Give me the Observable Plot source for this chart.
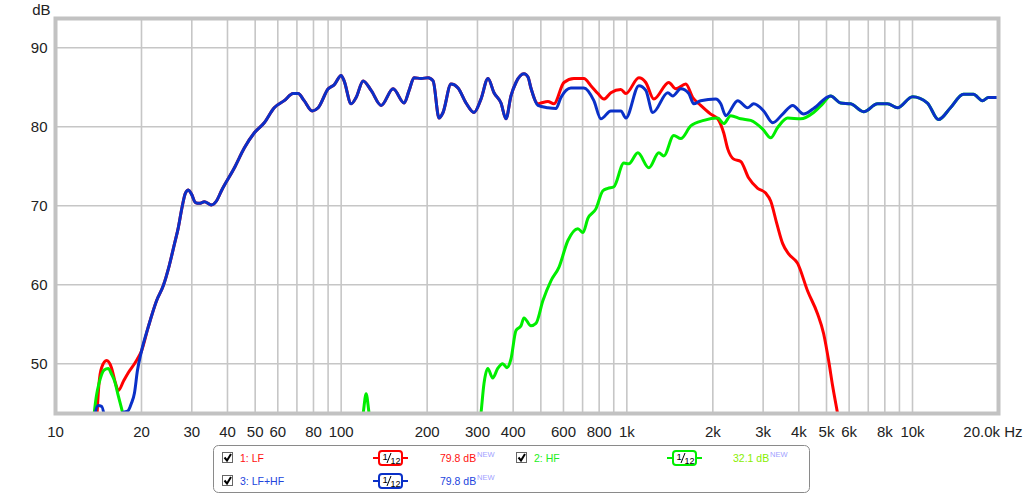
<!DOCTYPE html>
<html>
<head>
<meta charset="utf-8">
<script src="https://cdn.jsdelivr.net/npm/d3@7"></script>
<script src="https://cdn.jsdelivr.net/npm/@observablehq/plot@0.6"></script>
<style>
  html, body { margin: 0; padding: 0; background: #fff; }
  #wrap { position: relative; width: 1024px; height: 495px; overflow: hidden; font-family: "Liberation Sans", Arial, sans-serif; }
  #legend { position: absolute; left: 0; top: 440px; }
  svg g[aria-label="frame"] rect { filter: drop-shadow(2px 2px 1.5px rgba(0,0,0,0.28)); }
</style>
</head>
<body>
<div id="wrap"></div>
<script>
// ---- Data ----
const sumHz = [13.5, 14.1, 14.5, 15.1, 16.0, 16.7, 17.2, 17.96, 18.4, 18.9,
  19.35, 20.0, 21.1, 22.6, 23.85, 25.0, 26.1, 26.9, 27.8, 28.5,
  29.2, 29.9, 30.9, 31.9, 33.2, 35.1, 36.6, 38.1, 42.3, 45.8,
  49.6, 53.8, 58.3, 63.2, 67.9, 70.7, 74.2, 79.2, 83.1, 90.1,
  94.5, 100, 102.4, 108.4, 112.8, 119.4, 127.3, 138.0, 152.0, 166.1,
  172.9, 179.9, 190.4, 201.5, 209.8, 220.1, 227.3, 242.4, 256.5, 273.6,
  291.7, 308.6, 326.6, 342.8, 362.6, 377.5, 393.0, 409.2, 436.4, 450.7,
  461.6, 488.4, 529.2, 564.6, 587.8, 637.1, 707.5, 766.6, 811.3, 879.4,
  952.8, 992, 1102, 1165, 1233, 1391, 1448, 1545, 1648, 1715,
  1814, 2047, 2132, 2220, 2444, 2649, 2780, 3013, 3240, 3512,
  3806, 4158, 4506, 5169, 5602, 6071, 6741, 7545, 8177, 8863,
  10000, 11281, 12328, 13582, 15077, 16340, 17571, 18441, 19826];
const sumDb = [42, 44.7, 44.6, 42, 40, 43.3, 43.8, 44.05, 44.9, 46.3,
  49.1, 51.6, 54.6, 58.0, 59.9, 62.4, 65.2, 67.2, 70.0, 71.6,
  72.0, 71.5, 70.4, 70.3, 70.5, 70.1, 70.6, 71.9, 74.8, 77.3,
  79.2, 80.5, 82.4, 83.3, 84.2, 84.2, 83.3, 82.0, 82.4, 84.8,
  85.3, 86.5, 85.8, 82.9, 83.7, 85.8, 84.6, 82.7, 84.8, 83.0,
  84.6, 86.2, 86.1, 86.2, 85.8, 81.1, 81.8, 85.4, 84.9, 83.0,
  81.8, 83.5, 86.1, 84.3, 83.0, 81.0, 83.9, 85.6, 86.7, 86.3,
  84.9, 82.7, 82.4, 82.3, 83.7, 84.9, 84.9, 83.3, 81.0, 82.0,
  82.0, 81.1, 85.2, 84.6, 81.8, 84.3, 83.9, 84.8, 84.2, 82.9,
  83.3, 83.5, 82.9, 81.4, 83.3, 82.4, 82.9, 82.0, 80.5, 81.6,
  82.7, 81.6, 82.3, 83.9, 83.0, 82.9, 81.9, 82.9, 82.9, 82.4,
  83.8, 83.0, 80.9, 82.4, 84.1, 84.1, 83.3, 83.7, 83.7];

const lfHz = [13.9, 14.2, 14.5, 15.1, 15.7, 16.2, 16.6, 17.3, 18.0, 18.9, 19.35, 20.0,
  21.1, 22.6, 23.85, 25.0, 26.1, 26.9, 27.8, 28.5,
  29.2, 29.9, 30.9, 31.9, 33.2, 35.1, 36.6, 38.1, 42.3, 45.8,
  49.6, 53.8, 58.3, 63.2, 67.9, 70.7, 74.2, 79.2, 83.1, 90.1,
  94.5, 100, 102.4, 108.4, 112.8, 119.4, 127.3, 138.0, 152.0, 166.1,
  172.9, 179.9, 190.4, 201.5, 209.8, 220.1, 227.3, 242.4, 256.5, 273.6,
  291.7, 308.6, 326.6, 342.8, 362.6, 377.5, 393.0, 409.2, 436.4, 450.7, 461.6,
  488.4, 500.3, 529.2, 555.6, 602.2, 652.6, 707.5, 748.3, 791.9, 831.1,
  879.4, 952.8, 992, 1102, 1165, 1243, 1402, 1484, 1608, 1701,
  1814, 1966, 2081, 2184, 2255, 2367, 2504, 2671, 2871, 3062,
  3188, 3346, 3512, 3685, 3961, 4294, 4654, 4886, 5086, 5252, 5466, 5602];
const lfDb = [42, 47.5, 49.5, 50.4, 49.5, 47.6, 46.6, 47.8, 48.9, 50.0, 50.6, 51.6,
  54.6, 58.0, 59.9, 62.4, 65.2, 67.2, 70.0, 71.6,
  72.0, 71.5, 70.4, 70.3, 70.5, 70.1, 70.6, 71.9, 74.8, 77.3,
  79.2, 80.5, 82.4, 83.3, 84.2, 84.2, 83.3, 82.0, 82.4, 84.8,
  85.3, 86.5, 85.8, 82.9, 83.7, 85.8, 84.6, 82.7, 84.8, 83.0,
  84.6, 86.2, 86.1, 86.2, 85.8, 81.1, 81.8, 85.4, 84.9, 83.0,
  81.8, 83.5, 86.1, 84.3, 83.0, 81.0, 83.9, 85.6, 86.7, 86.3, 84.9,
  82.9, 83.0, 83.2, 82.9, 85.6, 86.1, 86.1, 85.2, 84.2, 83.5,
  84.3, 84.7, 84.2, 86.2, 85.6, 83.5, 85.6, 84.8, 85.4, 83.7,
  82.7, 81.6, 81.0, 79.2, 77.2, 75.9, 75.6, 73.5, 72.2, 71.6,
  70.6, 67.8, 65.2, 63.9, 62.7, 59.2, 56.3, 53.8, 50.4, 47.2, 43.7, 41.5];

const hfHz = [13.5, 13.9, 14.2, 14.8, 15.3, 15.7, 16.1, 16.6, 17.2, 17.6,
  25, 100, 117.5, 119.4, 122.3, 125.3, 128.3, 150, 280,
  303.7, 308.6, 316.2, 326, 339.2, 353.2, 367.7, 380.6, 393, 409.2,
  426.1, 436.4, 461.6, 480.6, 508.5, 542.4, 578.4, 621.9, 674.0, 701.9,
  730.6, 779.2, 824.5, 858.4, 900.6, 976.1, 1016, 1093, 1194, 1294,
  1347, 1460, 1545, 1674, 1859, 2081, 2184, 2310, 2504, 2714,
  2989, 3188, 3373, 3655, 4058, 4506, 4846, 5169, 5602, 6071,
  6741, 7545, 8177, 8863, 10000, 11281, 12328, 13582, 15077, 16340,
  17571, 18441, 19826];
const hfDb = [42, 45.9, 47.5, 49.2, 49.4, 48.7, 47.8, 45.9, 43.7, 42,
  35, 35, 42, 43.7, 46.2, 43.7, 42, 35, 35,
  41.5, 43.7, 47.5, 49.4, 48.2, 49.4, 50.0, 49.5, 50.6, 54.2,
  54.8, 55.8, 54.8, 55.1, 58.0, 60.5, 62.2, 65.6, 67.1, 66.6,
  68.4, 69.6, 71.9, 72.2, 72.4, 75.4, 75.3, 76.7, 74.8, 76.7,
  76.3, 78.9, 78.5, 80.1, 80.8, 81.1, 80.4, 81.4, 81.0, 80.8,
  79.7, 78.6, 79.9, 81.1, 81.0, 81.8, 82.9, 83.9, 83.0, 82.9,
  81.9, 82.9, 82.9, 82.4, 83.8, 83.0, 80.9, 82.4, 84.1, 84.1,
  83.3, 83.7, 83.7];

const gridHz = [10, 20, 30, 40, 50, 60, 70, 80, 90,
  100, 200, 300, 400, 500, 600, 700, 800, 900,
  1000, 2000, 3000, 4000, 5000, 6000, 7000, 8000, 9000, 10000, 20000];
const tickHz = [10, 20, 30, 40, 50, 60, 80, 100, 200, 300, 400, 600, 800,
  1000, 2000, 3000, 4000, 5000, 6000, 8000, 10000];
const tickLabels = ["10", "20", "30", "40", "50", "60", "80", "100", "200", "300", "400", "600", "800",
  "1k", "2k", "3k", "4k", "5k", "6k", "8k", "10k"];
const dbTicks = [50, 60, 70, 80, 90];

const toRows = (hz, db) => hz.map((f, i) => ({f, v: db[i]}));
const lf = toRows(lfHz, lfDb);
const hf = toRows(hfHz, hfDb);
const sum = toRows(sumHz, sumDb);
const xTicks = tickHz.map((f, i) => ({f, label: tickLabels[i]}));

const chart = Plot.plot({
  width: 1024,
  height: 440,
  marginLeft: 55,
  marginRight: 26,
  marginTop: 18,
  marginBottom: 27,
  style: {fontFamily: '"Liberation Sans", Arial, sans-serif', fontSize: "15px", color: "#222", background: "#fff"},
  x: {type: "log", domain: [10, 20000], axis: null},
  y: {domain: [43.7, 93.7], axis: null},
  marks: [
    Plot.gridX(gridHz, {stroke: "#c6c6c6", strokeOpacity: 1, strokeWidth: 1.6}),
    Plot.gridY(dbTicks, {stroke: "#c6c6c6", strokeOpacity: 1, strokeWidth: 1.6}),
    Plot.line(lf, {x: "f", y: "v", stroke: "#ff0000", strokeWidth: 3, curve: "monotone-x", clip: true}),
    Plot.line(hf, {x: "f", y: "v", stroke: "#00ee00", strokeWidth: 3, curve: "monotone-x", clip: true}),
    Plot.line(sum, {x: "f", y: "v", stroke: "#0a30c8", strokeWidth: 3, curve: "monotone-x", clip: true}),
    Plot.frame({stroke: "#c2c2c2", strokeWidth: 4}),
    Plot.axisY({ticks: dbTicks, tickSize: 0, tickPadding: 8, label: null, fontSize: 15}),
    Plot.text(xTicks, {x: "f", text: "label", frameAnchor: "bottom", lineAnchor: "top", dy: 13, fontSize: 15, fill: "#222"}),
    Plot.text(["20.0k Hz"], {frameAnchor: "bottom-right", text: d => d, textAnchor: "end", lineAnchor: "top", dx: 24, dy: 13, fontSize: 15, fill: "#222"}),
    Plot.text(["dB"], {frameAnchor: "top-left", text: d => d, textAnchor: "end", lineAnchor: "bottom", dx: -5, dy: -4, fontSize: 15, fill: "#222"})
  ]
});
document.getElementById("wrap").appendChild(chart);

// ---- Legend (below the chart) ----
const ns = "http://www.w3.org/2000/svg";
const leg = document.createElementNS(ns, "svg");
leg.setAttribute("id", "legend");
leg.setAttribute("width", 1024);
leg.setAttribute("height", 55);
leg.style.fontFamily = '"Liberation Sans", Arial, sans-serif';
function el(tag, attrs, text) {
  const e = document.createElementNS(ns, tag);
  for (const k in attrs) e.setAttribute(k, attrs[k]);
  if (text != null) e.textContent = text;
  leg.appendChild(e);
  return e;
}
el("rect", {x: 213.5, y: 5.5, width: 596, height: 47, rx: 5, fill: "#fff", stroke: "#8a8a8a"});
const legendItems = [
  {cx: 222.5, cy: 18, name: "1: LF", nameColor: "#ff1010", sym: 373, color: "#ff0000", val: "79.8 dB", valX: 440, valColor: "#ff1010"},
  {cx: 516.5, cy: 18, name: "2: HF", nameColor: "#22ee22", sym: 667, color: "#00ee00", val: "32.1 dB", valX: 733, valColor: "#88ee00"},
  {cx: 222.5, cy: 41, name: "3: LF+HF", nameColor: "#2244dd", sym: 373, color: "#0a30c8", val: "79.8 dB", valX: 440, valColor: "#2244dd"}
];
for (const it of legendItems) {
  el("rect", {x: it.cx, y: it.cy - 5.5, width: 10, height: 10, fill: "#fff", stroke: "#666"});
  el("path", {d: `M${it.cx + 2},${it.cy - 0.5} l2.5,3 l4,-6.5`, fill: "none", stroke: "#000", "stroke-width": 2});
  el("text", {x: it.cx + 17.5, y: it.cy + 4, "font-size": 10.5, fill: it.nameColor}, it.name);
  el("line", {x1: it.sym, x2: it.sym + 35, y1: it.cy, y2: it.cy, stroke: it.color, "stroke-width": 2});
  el("rect", {x: it.sym + 6, y: it.cy - 7, width: 23, height: 14, rx: 3, fill: "#fff", stroke: it.color, "stroke-width": 2});
  el("text", {x: it.sym + 9.5, y: it.cy + 2, "font-size": 9.5, fill: "#000"}, "1");
  el("line", {x1: it.sym + 14, y1: it.cy + 5, x2: it.sym + 18, y2: it.cy - 5, stroke: "#000", "stroke-width": 1});
  el("text", {x: it.sym + 17.5, y: it.cy + 5.5, "font-size": 9, fill: "#000"}, "12");
  el("text", {x: it.valX, y: it.cy + 4, "font-size": 10.5, fill: it.valColor}, it.val);
  el("text", {x: it.valX + 37, y: it.cy - 1, "font-size": 7.5, fill: "#9f9fff"}, "NEW");
}
document.getElementById("wrap").appendChild(leg);
</script>
</body>
</html>
